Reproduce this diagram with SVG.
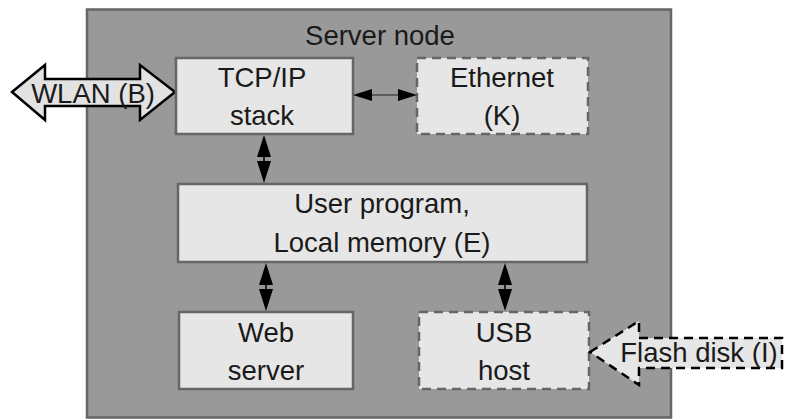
<svg xmlns="http://www.w3.org/2000/svg" width="787" height="419" viewBox="0 0 787 419">
<defs>
<style>
.t{font-family:"Liberation Sans",Arial,sans-serif;font-size:27.5px;fill:#1a1a1a;text-anchor:middle}
.box{fill:#e6e6e6;stroke:#666;stroke-width:2.5}
.dbox{fill:#e6e6e6;stroke:#666;stroke-width:2.5;stroke-dasharray:9,6}
.ln{stroke:#222;fill:none}
.hd{fill:#000}
</style>
</defs>
<g id="server-node">
<rect x="87" y="9.5" width="584" height="408" fill="#999" stroke="#666" stroke-width="2.5"/>
<text class="t" x="380" y="45">Server node</text>
</g>
<g id="wlan">
<polygon points="12,92 45,65 45,79 140,79 140,65 175,92 140,120 140,106 45,106 45,120" fill="#e2e2e2" stroke="#000" stroke-width="2.5" stroke-linejoin="miter"/>
<text class="t" x="93" y="103">WLAN (B)</text>
</g>
<g id="tcpip">
<rect class="box" x="176" y="58" width="177" height="76"/>
<text class="t" x="262" y="87">TCP/IP</text>
<text class="t" x="262" y="125">stack</text>
</g>
<g id="ethernet">
<rect class="dbox" x="417" y="58" width="171" height="76"/>
<text class="t" x="502" y="87">Ethernet</text>
<text class="t" x="502" y="125">(K)</text>
</g>
<g id="user-program">
<rect class="box" x="178" y="184" width="409" height="78"/>
<text class="t" x="382" y="213">User program,</text>
<text class="t" x="382" y="252">Local memory (E)</text>
</g>
<g id="web-server">
<rect class="box" x="179" y="312" width="174" height="77"/>
<text class="t" x="266" y="342">Web</text>
<text class="t" x="266" y="380">server</text>
</g>
<g id="usb-host">
<rect class="dbox" x="419" y="312" width="170" height="77"/>
<text class="t" x="504" y="342">USB</text>
<text class="t" x="504" y="380">host</text>
</g>
<g id="flash-disk">
<polygon points="590,352 639,321 639,338 782,338 782,368 639,368 639,385" fill="#e6e6e6" stroke="#000" stroke-width="2.5" stroke-dasharray="9,6"/>
<text class="t" x="699" y="362">Flash disk (I)</text>
</g>
<g id="connectors">
<line class="ln" x1="368" y1="95" x2="402" y2="95" stroke-width="1.2"/>
<polygon class="hd" points="353,95 372,89 372,101"/>
<polygon class="hd" points="417,95 398,89 398,101"/>
<line class="ln" x1="264" y1="150" x2="264" y2="168" stroke-width="2"/>
<polygon class="hd" points="264,135 257,157 271,157"/>
<polygon class="hd" points="264,183 257,161 271,161"/>
<line class="ln" x1="266" y1="278" x2="266" y2="296" stroke-width="2"/>
<polygon class="hd" points="266,263 259,285 273,285"/>
<polygon class="hd" points="266,311 259,289 273,289"/>
<line class="ln" x1="505" y1="278" x2="505" y2="296" stroke-width="2"/>
<polygon class="hd" points="505,263 498,285 512,285"/>
<polygon class="hd" points="505,311 498,289 512,289"/>
</g>
</svg>
